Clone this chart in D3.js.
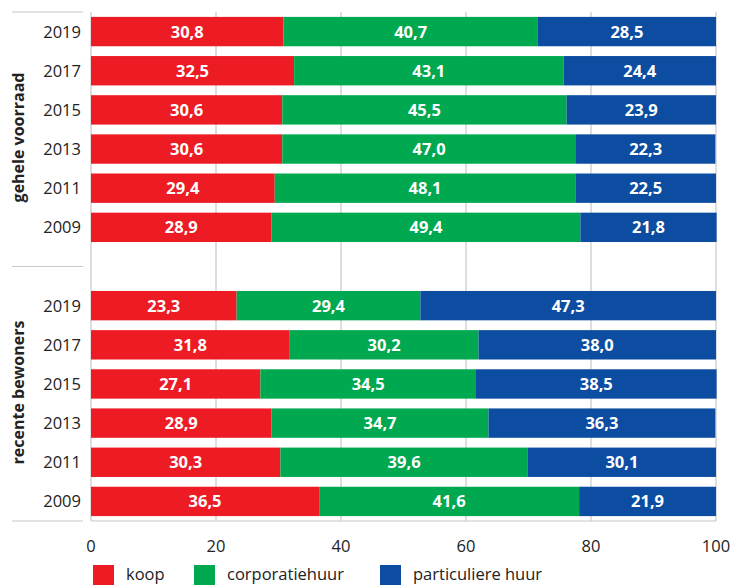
<!DOCTYPE html>
<html><head><meta charset="utf-8">
<script src="https://cdn.jsdelivr.net/npm/d3@7"></script>
<style>body{margin:0;background:#fff}svg{display:block}</style>
</head><body>
<script>
const years = ["2019","2017","2015","2013","2011","2009"];
const groups = ["gehele voorraad","recente bewoners"];
const seriesNames = ["koop","corporatiehuur","particuliere huur"];
const colors = ["#ED1C24","#00A94F","#0D4DA1"];
const koopTotal = [30.8,32.5,30.6,30.6,29.4,28.9];
const corpTotal = [40.7,43.1,45.5,47.0,48.1,49.4];
const partTotal = [28.5,24.4,23.9,22.3,22.5,21.8];
const koopRecent = [23.3,31.8,27.1,28.9,30.3,36.5];
const corpRecent = [29.4,30.2,34.5,34.7,39.6,41.6];
const partRecent = [47.3,38.0,38.5,36.3,30.1,21.9];
const xTicks = [0,20,40,60,80,100];

const W=731,H=585;
const font = "'Open Sans', 'Noto Sans', sans-serif";
const svg = d3.select("body").append("svg").attr("width",W).attr("height",H);
const x = d3.scaleLinear().domain([0,100]).range([91,716]);
const keys = [...years.map(y=>"g"+y),"gap",...years.map(y=>"r"+y)];
const y = d3.scaleBand().domain(keys).range([12,521]).paddingInner(0.25).paddingOuter(0.125);

const rows = [];
years.forEach((yr,i)=>rows.push({key:"g"+yr,year:yr,vals:[koopTotal[i],corpTotal[i],partTotal[i]]}));
years.forEach((yr,i)=>rows.push({key:"r"+yr,year:yr,vals:[koopRecent[i],corpRecent[i],partRecent[i]]}));

// grid
svg.append("g").selectAll("line").data(xTicks).join("line")
  .attr("x1",d=>x(d)).attr("x2",d=>x(d)).attr("y1",12).attr("y2",521)
  .attr("stroke","#c8c8c8").attr("stroke-width",1.2);
svg.append("line").attr("x1",x(0)).attr("x2",x(100)).attr("y1",521).attr("y2",521)
  .attr("stroke","#c8c8c8").attr("stroke-width",1.2);
// left separators
[12, y("gap")+y.bandwidth()/2, 521].forEach(v=>{
  svg.append("line").attr("x1",12).attr("x2",83).attr("y1",v).attr("y2",v)
    .attr("stroke","#c8c8c8").attr("stroke-width",1.2);
});

// bars
const seg = [];
rows.forEach(r=>{let c=0; r.vals.forEach((v,j)=>{seg.push({key:r.key,x0:c,x1:c+v,v,j}); c+=v;});});
svg.append("g").selectAll("rect").data(seg).join("rect")
  .attr("x",d=>x(d.x0)).attr("width",d=>x(d.x1)-x(d.x0))
  .attr("y",d=>y(d.key)).attr("height",y.bandwidth())
  .attr("fill",d=>colors[d.j]);
svg.append("g").selectAll("text").data(seg).join("text")
  .attr("x",d=>(x(d.x0)+x(d.x1))/2).attr("y",d=>y(d.key)+y.bandwidth()/2)
  .attr("dy","0.36em").attr("text-anchor","middle")
  .attr("fill","#fff").attr("font-family",font).attr("font-weight","bold").attr("font-size",16.5)
  .text(d=>d.v.toFixed(1).replace(".",","));

// year labels
svg.append("g").selectAll("text").data(rows).join("text")
  .attr("x",81).attr("y",d=>y(d.key)+y.bandwidth()/2).attr("dy","0.36em")
  .attr("text-anchor","end").attr("font-family",font).attr("font-size",16.5).attr("fill","#222")
  .text(d=>d.year);

// group labels
const gc = [ (y("g2019")+y("g2009")+y.bandwidth())/2 + 8, (y("r2019")+y("r2009")+y.bandwidth())/2 - 11 ];
groups.forEach((g,i)=>{
  svg.append("text").attr("transform",`translate(24,${gc[i]}) rotate(-90)`)
    .attr("text-anchor","middle").attr("font-family",font).attr("font-weight","bold")
    .attr("font-size",16).attr("fill","#222").text(g);
});

// x axis labels
svg.append("g").selectAll("text").data(xTicks).join("text")
  .attr("x",d=>x(d)).attr("y",552).attr("text-anchor","middle")
  .attr("font-family",font).attr("font-size",16.5).attr("fill","#222").text(d=>d);

// legend
const legX = [93,194,380];
seriesNames.forEach((s,i)=>{
  svg.append("rect").attr("x",legX[i]).attr("y",565).attr("width",21).attr("height",21).attr("fill",colors[i]);
  svg.append("text").attr("x",legX[i]+33).attr("y",580).attr("font-family",font).attr("font-size",16.5)
    .attr("fill","#222").text(s);
});
</script>
</body></html>
